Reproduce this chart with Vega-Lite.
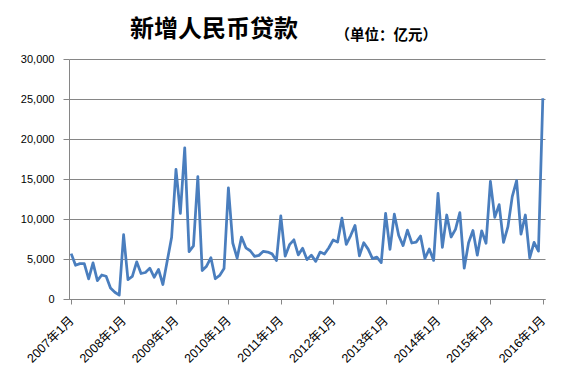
{
  "$schema": "https://vega.github.io/schema/vega-lite/v6.json",
  "width": 476,
  "height": 240,
  "autosize": {"type": "none"},
  "padding": {"left": 69, "top": 59, "right": 26, "bottom": 85},
  "background": "white",
  "title": {
    "text": "新增人民币贷款",
    "anchor": "start",
    "frame": "group",
    "dx": 61,
    "offset": -15,
    "font": "Noto Sans CJK SC",
    "fontSize": 24,
    "fontWeight": "bold",
    "color": "#000000"
  },
  "data": {
    "values": [
      {"month": "2007-01", "loans": 5670}, {"month": "2007-02", "loans": 4216}, {"month": "2007-03", "loans": 4417},
      {"month": "2007-04", "loans": 4418}, {"month": "2007-05", "loans": 2514}, {"month": "2007-06", "loans": 4515},
      {"month": "2007-07", "loans": 2300}, {"month": "2007-08", "loans": 3000}, {"month": "2007-09", "loans": 2846},
      {"month": "2007-10", "loans": 1364}, {"month": "2007-11", "loans": 846}, {"month": "2007-12", "loans": 485},
      {"month": "2008-01", "loans": 8034}, {"month": "2008-02", "loans": 2434}, {"month": "2008-03", "loans": 2834},
      {"month": "2008-04", "loans": 4645}, {"month": "2008-05", "loans": 3185}, {"month": "2008-06", "loans": 3316},
      {"month": "2008-07", "loans": 3857}, {"month": "2008-08", "loans": 2715}, {"month": "2008-09", "loans": 3702},
      {"month": "2008-10", "loans": 1813}, {"month": "2008-11", "loans": 4769}, {"month": "2008-12", "loans": 7718},
      {"month": "2009-01", "loans": 16200}, {"month": "2009-02", "loans": 10700}, {"month": "2009-03", "loans": 18900},
      {"month": "2009-04", "loans": 5918}, {"month": "2009-05", "loans": 6645}, {"month": "2009-06", "loans": 15300},
      {"month": "2009-07", "loans": 3559}, {"month": "2009-08", "loans": 4104}, {"month": "2009-09", "loans": 5167},
      {"month": "2009-10", "loans": 2530}, {"month": "2009-11", "loans": 2948}, {"month": "2009-12", "loans": 3798},
      {"month": "2010-01", "loans": 13900}, {"month": "2010-02", "loans": 7000}, {"month": "2010-03", "loans": 5107},
      {"month": "2010-04", "loans": 7740}, {"month": "2010-05", "loans": 6394}, {"month": "2010-06", "loans": 6034},
      {"month": "2010-07", "loans": 5328}, {"month": "2010-08", "loans": 5452}, {"month": "2010-09", "loans": 5955},
      {"month": "2010-10", "loans": 5872}, {"month": "2010-11", "loans": 5641}, {"month": "2010-12", "loans": 4807},
      {"month": "2011-01", "loans": 10400}, {"month": "2011-02", "loans": 5356}, {"month": "2011-03", "loans": 6794},
      {"month": "2011-04", "loans": 7396}, {"month": "2011-05", "loans": 5516}, {"month": "2011-06", "loans": 6339},
      {"month": "2011-07", "loans": 4925}, {"month": "2011-08", "loans": 5485}, {"month": "2011-09", "loans": 4700},
      {"month": "2011-10", "loans": 5868}, {"month": "2011-11", "loans": 5622}, {"month": "2011-12", "loans": 6405},
      {"month": "2012-01", "loans": 7381}, {"month": "2012-02", "loans": 7107}, {"month": "2012-03", "loans": 10100},
      {"month": "2012-04", "loans": 6818}, {"month": "2012-05", "loans": 7932}, {"month": "2012-06", "loans": 9198},
      {"month": "2012-07", "loans": 5401}, {"month": "2012-08", "loans": 7039}, {"month": "2012-09", "loans": 6232},
      {"month": "2012-10", "loans": 5053}, {"month": "2012-11", "loans": 5229}, {"month": "2012-12", "loans": 4543},
      {"month": "2013-01", "loans": 10700}, {"month": "2013-02", "loans": 6200}, {"month": "2013-03", "loans": 10600},
      {"month": "2013-04", "loans": 7929}, {"month": "2013-05", "loans": 6674}, {"month": "2013-06", "loans": 8605},
      {"month": "2013-07", "loans": 6999}, {"month": "2013-08", "loans": 7113}, {"month": "2013-09", "loans": 7870},
      {"month": "2013-10", "loans": 5061}, {"month": "2013-11", "loans": 6246}, {"month": "2013-12", "loans": 4825},
      {"month": "2014-01", "loans": 13200}, {"month": "2014-02", "loans": 6445}, {"month": "2014-03", "loans": 10500},
      {"month": "2014-04", "loans": 7747}, {"month": "2014-05", "loans": 8708}, {"month": "2014-06", "loans": 10800},
      {"month": "2014-07", "loans": 3852}, {"month": "2014-08", "loans": 7025}, {"month": "2014-09", "loans": 8572},
      {"month": "2014-10", "loans": 5483}, {"month": "2014-11", "loans": 8527}, {"month": "2014-12", "loans": 6973},
      {"month": "2015-01", "loans": 14700}, {"month": "2015-02", "loans": 10200}, {"month": "2015-03", "loans": 11800},
      {"month": "2015-04", "loans": 7079}, {"month": "2015-05", "loans": 9008}, {"month": "2015-06", "loans": 12800},
      {"month": "2015-07", "loans": 14800}, {"month": "2015-08", "loans": 8096}, {"month": "2015-09", "loans": 10500},
      {"month": "2015-10", "loans": 5136}, {"month": "2015-11", "loans": 7089}, {"month": "2015-12", "loans": 5978},
      {"month": "2016-01", "loans": 25100}
    ]
  },
  "mark": {"type": "line", "color": "#4A7EBE", "strokeWidth": 2.75, "strokeJoin": "round"},
  "encoding": {
    "x": {
      "field": "month",
      "type": "ordinal",
      "sort": null,
      "scale": {"type": "point", "padding": 0.5},
      "axis": {
        "title": null,
        "values": ["2007-01", "2008-01", "2009-01", "2010-01", "2011-01", "2012-01", "2013-01", "2014-01", "2015-01", "2016-01"],
        "labelExpr": "slice(datum.value, 0, 4) + '年1月'",
        "labelAngle": -45,
        "labelAlign": "right",
        "labelBaseline": "middle",
        "labelFont": "Liberation Sans, Noto Sans CJK SC",
        "labelFontSize": 12.5,
        "labelColor": "#000000",
        "labelPadding": 14,
        "labelOverlap": false,
        "tickSize": 5,
        "tickColor": "#868686",
        "domainColor": "#868686",
        "grid": false
      }
    },
    "y": {
      "field": "loans",
      "type": "quantitative",
      "scale": {"domain": [0, 30000], "nice": false},
      "axis": {
        "title": "（单位：亿元）",
        "titleAngle": 0,
        "titleAlign": "left",
        "titleBaseline": "middle",
        "titleX": 266,
        "titleY": -24,
        "titleFont": "Noto Sans CJK SC",
        "titleFontSize": 14.5,
        "titleFontWeight": "bold",
        "titleColor": "#000000",
        "values": [0, 5000, 10000, 15000, 20000, 25000, 30000],
        "format": ",d",
        "labelFont": "Liberation Sans",
        "labelFontSize": 11,
        "labelColor": "#000000",
        "labelPadding": 9,
        "tickSize": 6,
        "tickColor": "#868686",
        "domainColor": "#868686",
        "grid": true,
        "gridColor": "#868686",
        "gridOpacity": 1
      }
    }
  },
  "config": {
    "view": {"stroke": null},
    "axis": {"domainWidth": 1, "tickWidth": 1, "gridWidth": 1}
  }
}
